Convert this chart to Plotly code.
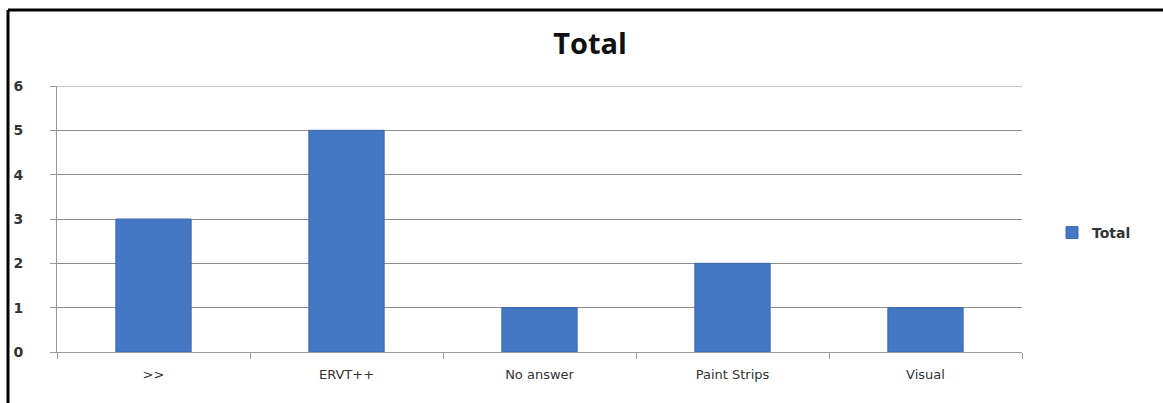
import plotly.graph_objects as go

categories = [">>", "ERVT++", "No answer", "Paint Strips", "Visual"]
values = [3, 5, 1, 2, 1]
y_ticks = [0, 1, 2, 3, 4, 5, 6]

W, H = 1163, 403
L, R, T, B = 57, 141, 86, 51
pw, ph = W - L - R, H - T - B

def px(x):
    return (x - L) / pw

def py(y):
    return (H - B - y) / ph

fig = go.Figure()
fig.add_trace(go.Bar(
    x=categories, y=values, name="Total",
    marker=dict(color="#4477C4", line=dict(color="#3A68B0", width=1)),
    width=0.39, showlegend=True,
))

fig.update_layout(
    width=W, height=H,
    margin=dict(l=L, r=R, t=T, b=B),
    paper_bgcolor="white", plot_bgcolor="white",
    title=dict(text="<b>Total</b>", x=590 / W, xanchor="center", y=1 - 44 / H, yanchor="middle",
               font=dict(family="Open Sans", size=29, color="#111")),
    font=dict(family="DejaVu Sans", size=12, color="#333"),
    bargap=0.61,
    showlegend=True,
    legend=dict(x=px(1052), y=py(233), xanchor="left", yanchor="middle",
                font=dict(family="DejaVu Sans", size=14, color="#333", weight="bold"),
                bgcolor="rgba(0,0,0,0)", itemwidth=30),
    xaxis=dict(showline=True, linecolor="#999", linewidth=1, ticks="outside",
               tickson="boundaries", ticklen=6, tickcolor="#999",
               showgrid=False, ticklabelstandoff=10,
               tickfont=dict(family="DejaVu Sans", size=13, color="#333")),
    yaxis=dict(range=[0, 6], tickvals=y_ticks, showline=True, linecolor="#999", linewidth=1,
               ticks="outside", ticklen=6, tickcolor="#999",
               showgrid=True, gridcolor="#8c8c8c", gridwidth=1, zeroline=False,
               ticklabelstandoff=24,
               tickfont=dict(family="DejaVu Sans", size=14, color="#333", weight="bold")),
    shapes=[
        dict(type="line", xref="paper", yref="y", x0=0, x1=1, y0=6, y1=6,
             line=dict(color="#8c8c8c", width=1)),
        dict(type="line", xref="paper", yref="paper", x0=px(8), x1=px(1163), y0=py(10), y1=py(10),
             line=dict(color="black", width=3)),
        dict(type="line", xref="paper", yref="paper", x0=px(8), x1=px(8), y0=py(10), y1=py(403),
             line=dict(color="black", width=3)),
    ],
)

fig.write_html("out.html", config={"displayModeBar": False},
               post_script="document.body.style.margin='0';")
